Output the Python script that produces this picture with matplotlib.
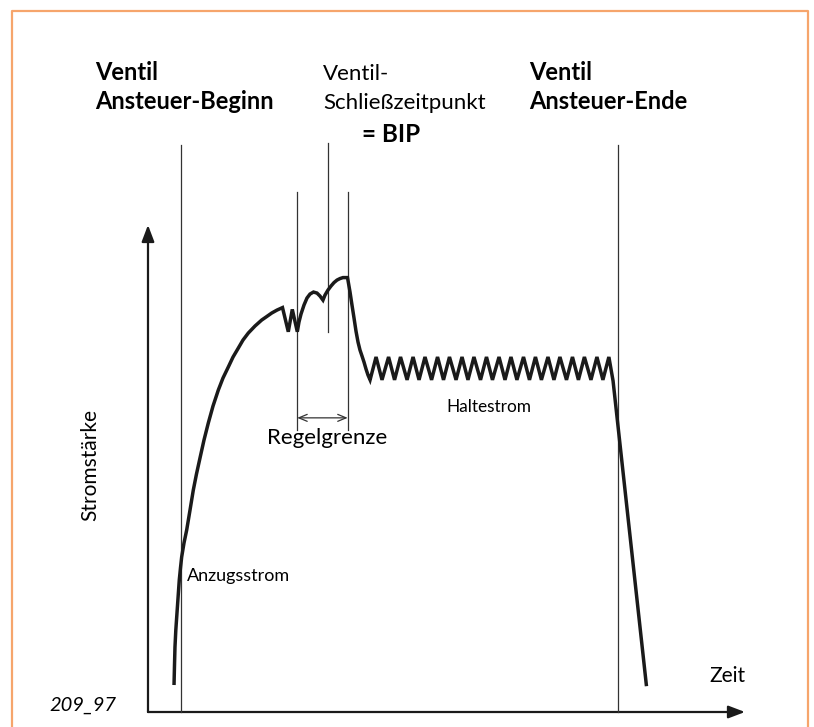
import numpy as np
import matplotlib
matplotlib.use("Agg")
import matplotlib.pyplot as plt
from matplotlib.patches import FancyArrowPatch

plt.rcParams['font.family'] = ['Lato', 'DejaVu Sans']

# valve current over time (arbitrary units: time 0..100, current 0..100)
# pull-in rise up to the first peak
rise_t = [4.36, 4.44, 4.52, 4.66, 4.81, 5.03, 5.24, 5.44, 5.64, 6.03, 6.48, 7.04, 7.59, 8.12,
          8.71, 9.38, 10.10, 10.89, 11.78, 12.56, 13.45, 14.24, 15.13, 15.91, 16.80, 17.92,
          19.04, 19.77, 20.72, 21.61, 22.53]
rise_i = [5.54, 9.65, 13.34, 16.83, 19.50, 23.40, 27.10, 29.56, 31.82, 34.70, 37.36, 41.47,
          45.58, 48.86, 52.15, 55.84, 59.33, 62.82, 66.11, 68.57, 70.83, 72.88, 74.73, 76.37,
          77.81, 79.25, 80.48, 81.10, 81.92, 82.53, 83.04]

# control window: zigzag, two arcs (closing point), then drop to holding level
ctrl_t = [23.50, 24.17, 25.01, 25.29, 25.63, 26.13, 26.63, 27.14, 27.72, 28.31, 28.81, 29.31,
          29.65, 30.15, 30.65, 31.16, 31.66, 32.16, 32.66, 33.42,
          33.58, 33.84, 34.17, 34.51, 34.84, 35.18, 35.51, 35.85, 36.18, 36.52, 36.85]
ctrl_i = [78.08, 82.67, 78.08, 80.07, 81.71, 83.56, 85.00, 85.82, 86.23, 86.02, 85.41, 84.58,
          85.61, 86.64, 87.46, 88.18, 88.69, 89.00, 89.20, 89.20,
          88.07, 86.23, 83.56, 80.89, 78.22, 75.96, 74.32, 73.09, 71.86, 70.42, 69.19]

# holding current ripple (trough / peak turning points)
hold_t = [37.2, 38.2, 39.2, 40.3, 41.3, 42.3, 43.4, 44.4, 45.4, 46.4,
          47.5, 48.5, 49.5, 50.5, 51.6, 52.6, 53.6, 54.6, 55.7, 56.7,
          57.7, 58.8, 59.8, 60.8, 61.8, 62.9, 63.9, 64.9, 65.9, 67.0,
          68.0, 69.0, 70.1, 71.1, 72.1, 73.1, 74.2, 75.2, 76.2, 77.2]
hold_i = [68.2, 72.9] * 20

# switch-off ramp
off_t = [77.9, 83.5]
off_i = [68.0, 5.3]

# marker line positions on the time axis
t_begin, t_end = 5.5, 78.7
t_ctrl_lo, t_ctrl_hi = 25.0, 33.45
t_bip = 30.15

t = np.concatenate([rise_t, ctrl_t, hold_t, off_t])
i = np.concatenate([rise_i, ctrl_i, hold_i, off_i])

fig = plt.figure(figsize=(8.14, 7.27), dpi=100)
ax = fig.add_axes([0, 0, 1, 1])
ax.set_xlim(-24.79, 111.56)
ax.set_ylim(-3.08, 146.2)
ax.axis('off')

# orange frame (open at the bottom)
fig.add_artist(plt.Line2D([12/814, 12/814, 808/814, 808/814],
                          [0, 1 - 11/727, 1 - 11/727, 0],
                          transform=fig.transFigure, color='#f6a56c', lw=1.6))

# axes with arrows
for end in [(100, 0), (0, 100)]:
    ax.add_patch(FancyArrowPatch((0, 0), end, arrowstyle='-|>,head_length=1.0,head_width=0.38',
                                 mutation_scale=10, color='#1a1a1a', lw=1.6,
                                 shrinkA=0, shrinkB=0))

# thin marker lines
line_kw = dict(color='#333333', lw=0.9)
ax.plot([t_begin, t_begin], [0, 116.4], **line_kw)
ax.plot([t_end, t_end], [0, 116.4], **line_kw)
ax.plot([t_ctrl_lo, t_ctrl_lo], [58.0, 106.8], **line_kw)
ax.plot([t_ctrl_hi, t_ctrl_hi], [58.0, 106.8], **line_kw)
ax.plot([t_bip, t_bip], [78.1, 116.8], **line_kw)
ax.add_patch(FancyArrowPatch((t_ctrl_lo, 60.4), (t_ctrl_hi, 60.4), arrowstyle='<->,head_length=0.6,head_width=0.25',
                             mutation_scale=10, color='#333333', lw=0.9, shrinkA=0, shrinkB=0))

# current curve
ax.plot(t, i, color='#1a1a1a', lw=2.5, solid_joinstyle='miter', solid_capstyle='butt')

# labels
ax.text(t_begin + 1.0, 27.0, 'Anzugsstrom', fontsize=13, va='baseline', ha='left')
ax.text(57.1, 61.5, 'Haltestrom', fontsize=12.4, va='baseline', ha='center')
ax.text(30.0, 55.0, 'Regelgrenze', fontsize=16, va='baseline', ha='center')

fig.text(95/814, 1 - 80/727, 'Ventil', fontsize=17, fontweight='bold')
fig.text(95/814, 1 - 109/727, 'Ansteuer-Beginn', fontsize=17, fontweight='bold')
fig.text(323/814, 1 - 80/727, 'Ventil-', fontsize=16)
fig.text(323/814, 1 - 109/727, 'Schließzeitpunkt', fontsize=16)
fig.text(362/814, 1 - 142/727, '= BIP', fontsize=17.5, fontweight='bold')
fig.text(529/814, 1 - 80/727, 'Ventil', fontsize=17, fontweight='bold')
fig.text(529/814, 1 - 109/727, 'Ansteuer-Ende', fontsize=17, fontweight='bold')

fig.text(709/814, 1 - 682/727, 'Zeit', fontsize=15)
fig.text(49/814, 1 - 711/727, '209_97', fontsize=14.5, style='italic')
fig.text(90/814, 1 - 465/727, 'Stromstärke', fontsize=15, rotation=90, ha='center', va='center')

fig.savefig('out.png', dpi=100, facecolor='white')
